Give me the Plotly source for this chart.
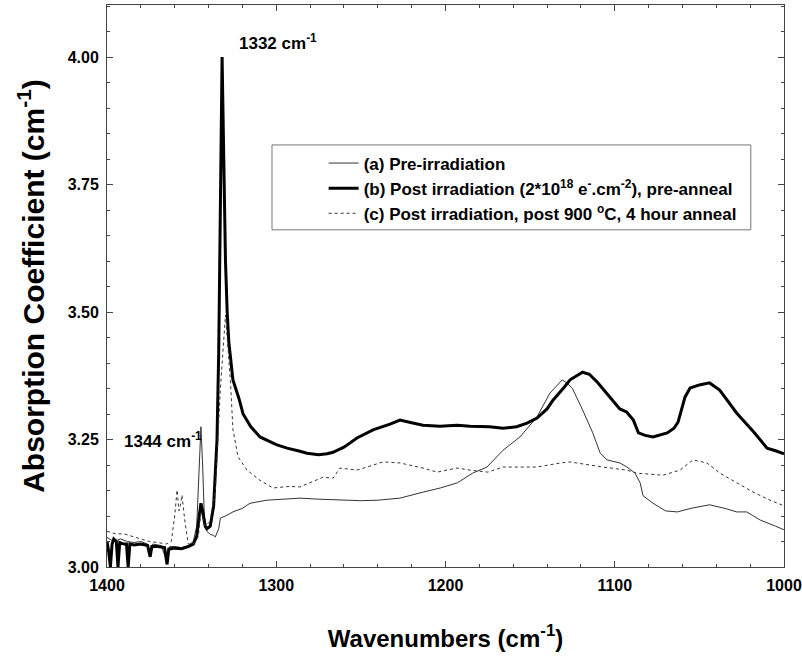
import plotly.graph_objects as go

# ---- data ----
wn_a = [1400, 1396, 1392, 1388, 1384, 1380, 1376, 1374.5, 1373, 1368, 1364.5, 1363, 1360, 1356, 1352,
        1349, 1347, 1345.5, 1344.5, 1343.5, 1342.5, 1341, 1339, 1337, 1336, 1334, 1333, 1330, 1325.6,
        1320, 1315.5, 1305.5, 1295, 1286, 1275, 1265, 1250, 1240, 1227, 1213, 1203, 1193, 1184, 1175.5,
        1166, 1156, 1146, 1138.3, 1131, 1128, 1125, 1119, 1113, 1108.7, 1104.6, 1097, 1092.8, 1088,
        1085, 1083.3, 1077.4, 1070, 1063, 1055, 1044, 1035, 1028, 1022, 1014, 1005, 1000]
abs_a = [3.058, 3.050, 3.055, 3.050, 3.048, 3.050, 3.045, 3.025, 3.045, 3.042, 3.010, 3.040, 3.040, 3.038, 3.042,
         3.050, 3.080, 3.180, 3.275, 3.200, 3.100, 3.070, 3.064, 3.062, 3.059, 3.075, 3.096, 3.100, 3.108,
         3.115, 3.125, 3.131, 3.133, 3.135, 3.133, 3.132, 3.130, 3.131, 3.135, 3.147, 3.155, 3.165, 3.184, 3.196,
         3.229, 3.255, 3.294, 3.341, 3.367, 3.360, 3.350, 3.308, 3.263, 3.224, 3.210, 3.204, 3.196, 3.184,
         3.165, 3.140, 3.125, 3.110, 3.108, 3.115, 3.122, 3.115, 3.108, 3.108, 3.092, 3.080, 3.073]

wn_b = [1400, 1399, 1398, 1397, 1396, 1394.5, 1393.5, 1392.5, 1390, 1388.5, 1387.5, 1386.5, 1384, 1380,
        1376, 1374.5, 1373.5, 1370, 1366, 1364.5, 1363.5, 1360, 1356, 1352, 1349, 1347, 1345.5, 1344.5,
        1343.5, 1342, 1341, 1339, 1337, 1335, 1334, 1333, 1332, 1331, 1330, 1329, 1328, 1327, 1325.6,
        1322, 1319.6, 1315, 1309.6, 1300, 1293.6, 1286, 1281.8, 1275, 1270, 1266.5, 1260, 1252.3, 1242.8,
        1232.8, 1226.9, 1220, 1213.3, 1203.3, 1193, 1185.5, 1174, 1166, 1158, 1151.8, 1145.9, 1140,
        1136.5, 1130, 1126.4, 1119, 1115, 1110.5, 1103, 1097, 1093, 1089, 1086, 1082, 1077.4, 1069, 1065,
        1062.6, 1058.5, 1055.5, 1050, 1044, 1038, 1033, 1028, 1018, 1010, 1005, 1000]
abs_b = [3.050, 3.030, 3.000, 3.045, 3.055, 3.050, 3.000, 3.048, 3.045, 3.045, 3.000, 3.045, 3.043, 3.045,
         3.042, 3.020, 3.040, 3.040, 3.038, 3.005, 3.035, 3.037, 3.036, 3.040, 3.045, 3.060, 3.100, 3.125,
         3.110, 3.080, 3.075, 3.080, 3.120, 3.250, 3.420, 3.700, 4.000, 3.800, 3.600, 3.500, 3.440, 3.410, 3.367,
         3.330, 3.300, 3.275, 3.255, 3.240, 3.233, 3.227, 3.223, 3.220, 3.222, 3.225, 3.235, 3.253, 3.269,
         3.280, 3.288, 3.283, 3.278, 3.276, 3.278, 3.276, 3.275, 3.272, 3.275, 3.282, 3.292, 3.310,
         3.327, 3.352, 3.367, 3.382, 3.378, 3.363, 3.333, 3.310, 3.304, 3.288, 3.263, 3.258, 3.255, 3.263, 3.272,
         3.284, 3.333, 3.351, 3.357, 3.361, 3.347, 3.325, 3.302, 3.265, 3.233, 3.228, 3.222]

wn_c = [1400, 1395, 1390, 1385, 1380, 1375, 1370, 1365, 1362, 1360, 1358.6, 1357.5, 1356.7, 1355.7, 1354,
        1352, 1349, 1346, 1344.5, 1342, 1339, 1336, 1333, 1331, 1330, 1329, 1327, 1325.6, 1322.6, 1317.3,
        1309.6, 1301.9, 1292, 1286, 1272.4, 1266.5, 1262.3, 1252.3, 1236.9, 1226.9, 1213.3, 1205, 1193.2,
        1185.5, 1175, 1166, 1146, 1132, 1126.4, 1107, 1093, 1087, 1071.5, 1061.4, 1053.8, 1045.5, 1037.8,
        1033.7, 1027.8, 1018.3, 1008.3, 1000]
abs_c = [3.070, 3.065, 3.065, 3.060, 3.055, 3.050, 3.048, 3.045, 3.050, 3.100, 3.151, 3.110, 3.120, 3.141, 3.090,
         3.045, 3.045, 3.060, 3.110, 3.080, 3.090, 3.150, 3.350, 3.450, 3.494, 3.450, 3.360, 3.270, 3.216, 3.190,
         3.170, 3.155, 3.158, 3.157, 3.176, 3.174, 3.194, 3.190, 3.206, 3.204, 3.194, 3.186, 3.194,
         3.190, 3.186, 3.196, 3.196, 3.204, 3.206, 3.196, 3.190, 3.184, 3.180, 3.190, 3.210, 3.204, 3.184,
         3.176, 3.165, 3.147, 3.131, 3.120]

names = ["(a) Pre-irradiation",
         "(b) Post irradiation (2*10<sup>18</sup> e<sup>-</sup>.cm<sup>-2</sup>), pre-anneal",
         "(c) Post irradiation, post 900 <sup>o</sup>C, 4 hour anneal"]

x_ticks = [1400, 1300, 1200, 1100, 1000]
y_ticks = [3.00, 3.25, 3.50, 3.75, 4.00]

FONT = "Liberation Sans, Arial, sans-serif"

fig = go.Figure()
fig.add_trace(go.Scatter(x=wn_a, y=abs_a, mode="lines", name=names[0],
                         line=dict(color="#333333", width=1)))
fig.add_trace(go.Scatter(x=wn_b, y=abs_b, mode="lines", name=names[1],
                         line=dict(color="#000000", width=3)))
fig.add_trace(go.Scatter(x=wn_c, y=abs_c, mode="lines", name=names[2],
                         line=dict(color="#333333", width=1, dash="3px,3px")))

axis_common = dict(showline=True, linecolor="#444444", linewidth=1, mirror="ticks",
                   ticks="inside", ticklen=6, tickcolor="#444444", showgrid=False, zeroline=False,
                   automargin=False, ticklabelstandoff=4,
                   tickfont=dict(family=FONT, size=16, color="black", weight="bold"))

fig.update_xaxes(range=[1400, 1000], tickvals=x_ticks, ticktext=[str(v) for v in x_ticks],
                 minor=dict(ticks="inside", ticklen=3, dtick=20, tick0=1000, tickcolor="#444444"),
                 title=dict(text="Wavenumbers (cm<sup>-1</sup>)", standoff=36,
                            font=dict(family=FONT, size=24, color="black", weight="bold")),
                 **axis_common)
fig.update_yaxes(range=[3.0, 4.102], tickvals=y_ticks, ticktext=[f"{v:.2f}" for v in y_ticks],
                 minor=dict(ticks="inside", ticklen=3, dtick=0.05, tick0=3.0, tickcolor="#444444"),
                 title=dict(text="Absorption Coefficient (cm<sup>-1</sup>)", standoff=14,
                            font=dict(family=FONT, size=30, color="black", weight="bold")),
                 **axis_common)

# legend box
fig.add_shape(type="rect", xref="paper", yref="paper", x0=0.2437, x1=0.951, y0=0.60, y1=0.751,
              line=dict(color="#777777", width=1), fillcolor="white", layer="below")

fig.update_layout(
    width=802, height=665,
    margin=dict(l=107, r=18, t=5, b=98, autoexpand=False),
    plot_bgcolor="white", paper_bgcolor="white",
    font=dict(family=FONT, color="black"),
    legend=dict(x=0.32, y=0.75, xanchor="left", yanchor="top", bgcolor="rgba(0,0,0,0)",
                borderwidth=0, tracegroupgap=0,
                font=dict(family=FONT, size=17, color="black", weight="bold")),
    annotations=[
        dict(x=1323, y=4.03, xref="x", yref="y", text="1332 cm<sup>-1</sup>", showarrow=False,
             xanchor="left", yanchor="middle", font=dict(family=FONT, size=17, color="black", weight="bold")),
        dict(x=1391, y=3.25, xref="x", yref="y", text="1344 cm<sup>-1</sup>", showarrow=False,
             xanchor="left", yanchor="middle", font=dict(family=FONT, size=17, color="black", weight="bold")),
    ],
)

fig.write_html("out.html", config={"displayModeBar": False},
               post_script="document.body.style.margin='0';document.body.style.overflow='hidden';")
